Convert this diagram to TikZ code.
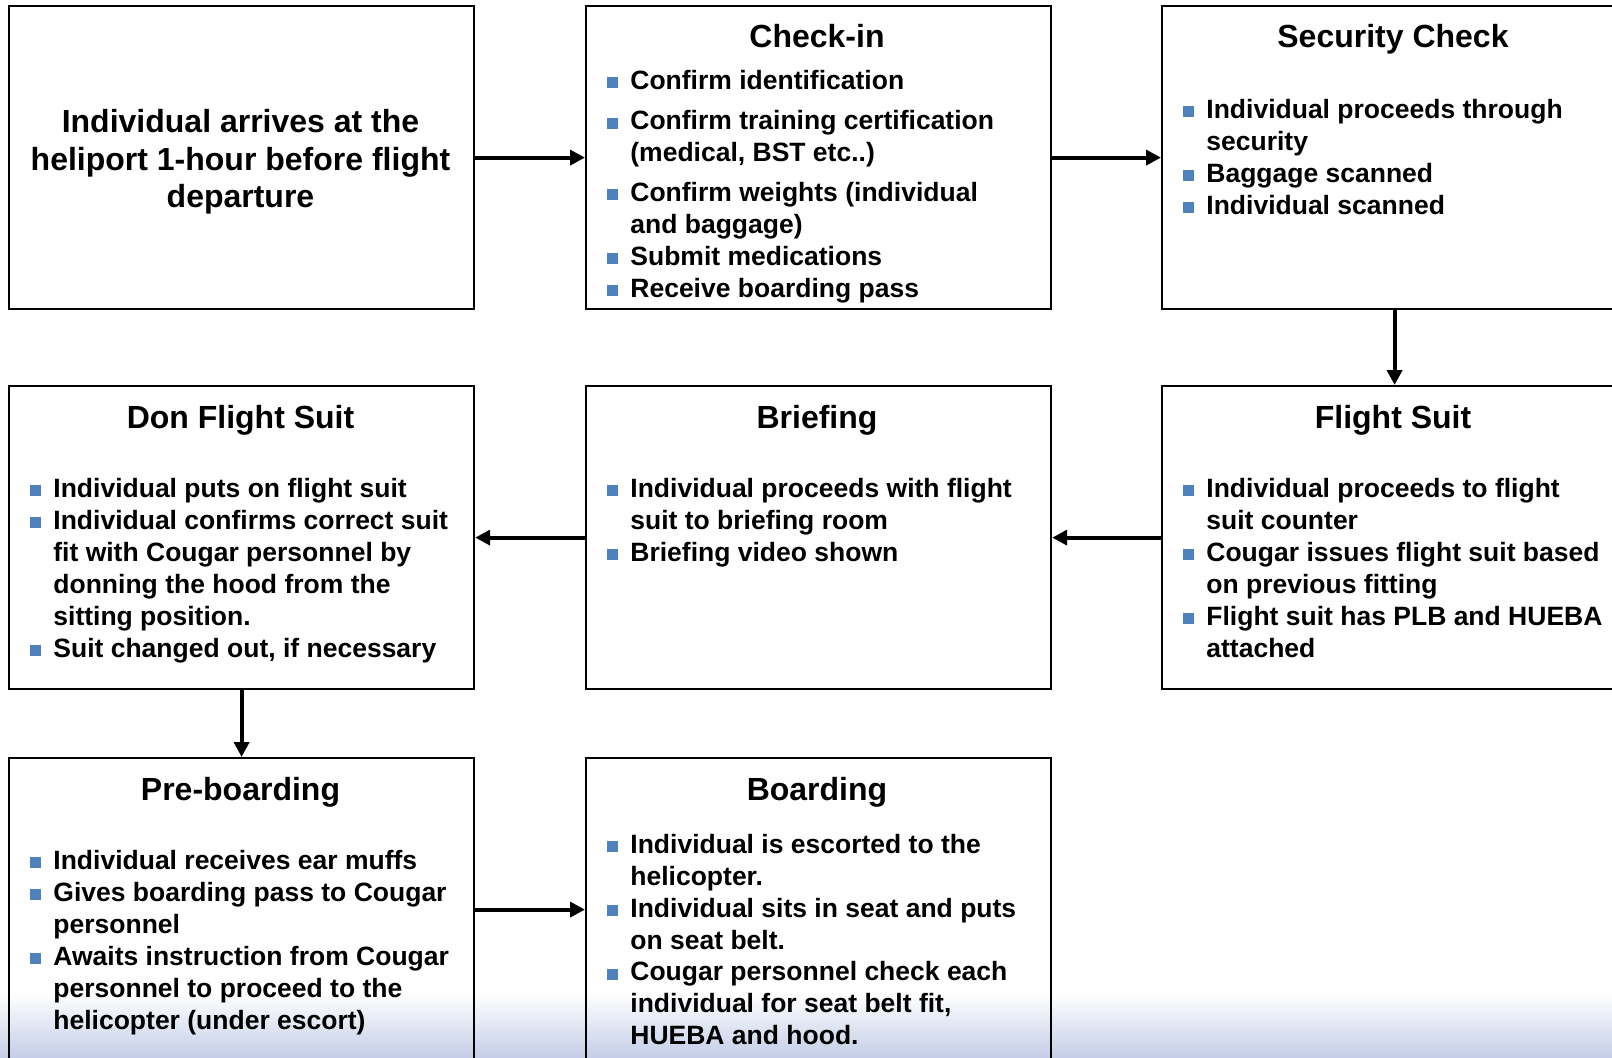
\documentclass[tikz,border=0pt]{standalone}
\usepackage{fontspec}
\setmainfont{Liberation Sans}
\usetikzlibrary{arrows.meta}
\definecolor{bulblue}{RGB}{79,129,189}
\definecolor{gradblue}{RGB}{196,206,232}
\newcommand\titlefont{\fontsize{16pt}{19.2pt}\selectfont\bfseries}
\newcommand\bodyfont{\fontsize{13.25pt}{15.9pt}\selectfont\bfseries}
\tikzset{
  box/.style={draw=black, line width=1.1pt, rectangle, inner sep=0pt,
    minimum width=232.5pt, minimum height=151.5pt, anchor=north west},
  ttl/.style={anchor=base, inner sep=0pt, font=\titlefont},
  txt/.style={anchor=base west, inner sep=0pt, font=\bodyfont},
  bul/.style={rectangle, fill=bulblue, inner sep=0pt, minimum size=5.5pt, anchor=south west},
  arr/.style={line width=2pt, -{Triangle[length=7.5pt,width=7.5pt]}}
}
% bulleted line: name, box-left x, baseline y, text
\newcommand\bitem[4]{%
  \node[bul] (#1b) at (#2+21.5,#3-0.5) {};
  \node[txt] (#1) at (#2+45,#3) {#4};}
% continuation line
\newcommand\citem[4]{\node[txt] (#1) at (#2+45,#3) {#4};}
\begin{document}
\begin{tikzpicture}[x=0.5pt,y=-0.5pt]
\clip (0,0) rectangle (1612,1057);
\fill[white] (0,0) rectangle (1612,1057);
\shade[top color=white, bottom color=gradblue] (0,993) rectangle (1612,1057);

% boxes
\node[box] (arrive) at (8,5) {};
\node[box] (checkin) at (585,5) {};
\node[box] (security) at (1161,5) {};
\node[box] (don) at (8,385) {};
\node[box] (briefing) at (585,385) {};
\node[box] (flightsuit) at (1161,385) {};
\node[box] (preboard) at (8,757) {};
\node[box] (boarding) at (585,757) {};

% box 1
\node[ttl] (a1) at (240.5,132) {Individual arrives at the};
\node[ttl] (a2) at (240.5,170) {heliport 1-hour before flight};
\node[ttl] (a3) at (240.5,207) {departure};

% check-in
\node[ttl] (t2) at (817,47) {Check-in};
\bitem{c1}{585}{89}{Confirm identification}
\bitem{c2}{585}{129.5}{Confirm training certification}
\citem{c3}{585}{161}{(medical, BST etc..)}
\bitem{c4}{585}{201}{Confirm weights (individual}
\citem{c5}{585}{233}{and baggage)}
\bitem{c6}{585}{265}{Submit medications}
\bitem{c7}{585}{297}{Receive boarding pass}

% security
\node[ttl] (t3) at (1393,47) {Security Check};
\bitem{s1}{1161}{118}{Individual proceeds through}
\citem{s2}{1161}{150}{security}
\bitem{s3}{1161}{182}{Baggage scanned}
\bitem{s4}{1161}{214}{Individual scanned}

% don flight suit
\node[ttl] (t4) at (240.5,428) {Don Flight Suit};
\bitem{d1}{8}{497}{Individual puts on flight suit}
\bitem{d2}{8}{529}{Individual confirms correct suit}
\citem{d3}{8}{561}{fit with Cougar personnel by}
\citem{d4}{8}{593}{donning the hood from the}
\citem{d5}{8}{625}{sitting position.}
\bitem{d6}{8}{657}{Suit changed out, if necessary}

% briefing
\node[ttl] (t5) at (817,428) {Briefing};
\bitem{b1}{585}{497}{Individual proceeds with flight}
\citem{b2}{585}{529}{suit to briefing room}
\bitem{b3}{585}{561}{Briefing video shown}

% flight suit
\node[ttl] (t6) at (1393,428) {Flight Suit};
\bitem{f1}{1161}{497}{Individual proceeds to flight}
\citem{f2}{1161}{529}{suit counter}
\bitem{f3}{1161}{561}{Cougar issues flight suit based}
\citem{f4}{1161}{593}{on previous fitting}
\bitem{f5}{1161}{625}{Flight suit has PLB and HUEBA}
\citem{f6}{1161}{657}{attached}

% pre-boarding
\node[ttl] (t7) at (240.5,800) {Pre-boarding};
\bitem{p1}{8}{869}{Individual receives ear muffs}
\bitem{p2}{8}{901}{Gives boarding pass to Cougar}
\citem{p3}{8}{933}{personnel}
\bitem{p4}{8}{965}{Awaits instruction from Cougar}
\citem{p5}{8}{997}{personnel to proceed to the}
\citem{p6}{8}{1029}{helicopter (under escort)}

% boarding
\node[ttl] (t8) at (817,800) {Boarding};
\bitem{g1}{585}{853}{Individual is escorted to the}
\citem{g2}{585}{885}{helicopter.}
\bitem{g3}{585}{917}{Individual sits in seat and puts}
\citem{g4}{585}{949}{on seat belt.}
\bitem{g5}{585}{980.5}{Cougar personnel check each}
\citem{g6}{585}{1012}{individual for seat belt fit,}
\citem{g7}{585}{1044}{HUEBA and hood.}

% connectors
\draw[arr] (arrive.east) -- (checkin.west);
\draw[arr] (checkin.east) -- (security.west);
\draw[arr] (security.south) -- (flightsuit.north);
\draw[arr] (flightsuit.west) -- (briefing.east);
\draw[arr] (briefing.west) -- (don.east);
\draw[arr] (don.south) -- (preboard.north);
\draw[arr] (preboard.east) -- (boarding.west);
\end{tikzpicture}
\end{document}
